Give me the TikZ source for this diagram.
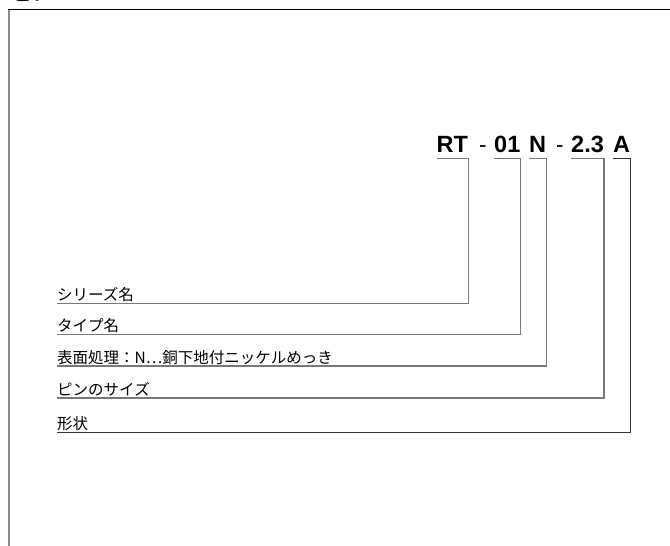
\documentclass[tikz,border=0pt]{standalone}
\usepackage{fontspec}
\setmainfont{Liberation Sans}
\newfontfamily\jpfont{Noto Sans CJK JP}
\definecolor{linegray}{RGB}{120,120,120}
\definecolor{framegray}{RGB}{140,136,134}
\tikzset{
  code part/.style={anchor=base west,inner xsep=0pt,inner ysep=6pt,font=\fontsize{23.5}{23.5}\selectfont\bfseries},
  code dash/.style={anchor=base west,inner sep=0pt,font=\fontsize{22.5}{22.5}\selectfont},
  label node/.style={anchor=south west,inner xsep=0pt,inner ysep=1.5pt,font=\jpfont\fontsize{15.5}{15.5}\selectfont},
  bracket/.style={draw=linegray,line width=1.4pt}
}
\begin{document}
\begin{tikzpicture}[x=1pt,y=-1pt]
    \useasboundingbox (0,0) rectangle (670,546);

    % frame
    \draw[framegray,line width=2pt] (8.5,9.5) -- (8.5,546);
    \draw[black,line width=1.3pt] (8,9.5) -- (670,9.5);
    \node[anchor=base west,inner sep=0pt,font=\jpfont\fontsize{20}{20}\selectfont\bfseries] at (12,0.8) (title) {ピン};

    % product code
    \node[code part] at (436.5,152) (rt) {RT};
    \node[code dash] at (479,152) (dash1) {-};
    \node[code part] at (494,152) (type) {01};
    \node[code part] at (529,152) (plating) {N};
    \node[code dash] at (556,152) (dash2) {-};
    \node[code part] at (571,152) (size) {2.3};
    \node[code part] at (613,152) (shape) {A};

    % labels
    \node[label node] at (57,303.5) (series) {シリーズ名};
    \node[label node] at (57,334.5) (typename) {タイプ名};
    \node[label node] at (57,366) (finish) {表面処理：N⋯銅下地付ニッケルめっき};
    \node[label node] at (57,398) (pinsize) {ピンのサイズ};
    \node[label node] at (57,432.5) (form) {形状};

    % brackets
    \draw[bracket] (rt.south west) -- (rt.south east) |- (series.south west);
    \draw[bracket] (type.south west) -- (type.south east) |- (typename.south west);
    \draw[bracket] (plating.south west) -- (plating.south east) |- (finish.south west);
    \draw[bracket] (size.south west) -- (size.south east) |- (pinsize.south west);
    \draw[bracket,draw=black!80] (shape.south west) -- (shape.south east) |- (form.south west);
\end{tikzpicture}
\end{document}
